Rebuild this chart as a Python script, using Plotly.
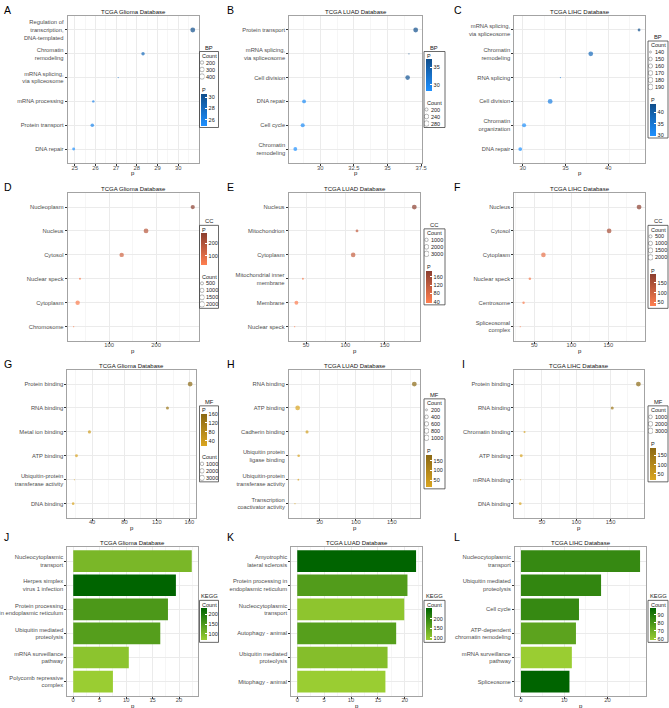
import plotly.graph_objects as go

W, H = 669, 708

# ---------------- GO BP ----------------
a_terms = ["Regulation of<br>transcription,<br>DNA-templated", "Chromatin<br>remodeling",
           "mRNA splicing,<br>via spliceosome", "mRNA processing", "Protein transport", "DNA repair"]
a_p = [30.7, 28.3, 27.1, 25.9, 25.85, 24.95]
a_count = [420, 260, 160, 190, 270, 220]
a_keys = [200, 300, 400]
a_pticks = [26, 28, 30]

b_terms = ["Protein transport", "mRNA splicing,<br>via spliceosome", "Cell division", "DNA repair",
           "Cell cycle", "Chromatin<br>remodeling"]
b_p = [37.1, 36.6, 36.5, 28.8, 28.7, 28.15]
b_count = [285, 190, 275, 240, 250, 240]
b_keys = [200, 240, 280]
b_pticks = [30, 35]

c_terms = ["mRNA splicing,<br>via spliceosome", "Chromatin<br>remodeling", "RNA splicing", "Cell division",
           "Chromatin<br>organization", "DNA repair"]
c_p = [43.6, 37.95, 34.4, 33.2, 30.15, 29.7]
c_count = [150, 188, 140, 190, 172, 165]
c_keys = [140, 150, 160, 170, 180, 190]
c_pticks = [30, 35, 40]

# ---------------- GO CC ----------------
d_terms = ["Nucleoplasm", "Nucleus", "Cytosol", "Nuclear speck", "Cytoplasm", "Chromosome"]
d_p = [277.7, 178.4, 126.6, 38, 33, 24.5]
d_count = [1500, 2000, 1700, 450, 1650, 350]
d_keys = [500, 1000, 1500, 2000]
d_pticks = [100, 200]

e_terms = ["Nucleus", "Mitochondrion", "Cytoplasm", "Mitochondrial inner<br>membrane", "Membrane", "Nuclear speck"]
e_p = [187.9, 114.9, 110, 46, 37.7, 35.5]
e_count = [3100, 1100, 2800, 700, 2000, 600]
e_keys = [1000, 2000, 3000]
e_pticks = [40, 80, 120, 160]

f_terms = ["Nucleus", "Cytosol", "Cytoplasm", "Nuclear speck", "Centrosome", "Spliceosomal<br>complex"]
f_p = [191.4, 151, 62.3, 44, 35.5, 31]
f_count = [2100, 2000, 1900, 550, 500, 300]
f_keys = [500, 1000, 1500, 2000]
f_pticks = [50, 100, 150]

# ---------------- GO MF ----------------
g_terms = ["Protein binding", "RNA binding", "Metal ion binding", "ATP binding",
           "Ubiquitin-protein<br>transferase activity", "DNA binding"]
g_p = [161, 133, 36.7, 20.7, 18.2, 16.6]
g_count = [3600, 1200, 1300, 1100, 400, 900]
g_keys = [1000, 2000, 3000]
g_pticks = [40, 80, 120, 160]

h_terms = ["RNA binding", "ATP binding", "Cadherin binding", "Ubiquitin protein<br>ligase binding",
           "Ubiquitin-protein<br>transferase activity", "Transcription<br>coactivator activity"]
h_p = [181, 19.4, 32.4, 20.8, 20.4, 15.7]
h_count = [1050, 1000, 420, 330, 220, 200]
h_keys = [200, 400, 600, 800, 1000]
h_pticks = [50, 100, 150]

i_terms = ["Protein binding", "RNA binding", "Chromatin binding", "ATP binding", "mRNA binding", "DNA binding"]
i_p = [190.5, 152.4, 24.6, 19.8, 18.8, 18.3]
i_count = [3200, 1100, 500, 1000, 350, 900]
i_keys = [1000, 2000, 3000]
i_pticks = [50, 100, 150]

# ---------------- KEGG ----------------
j_terms = ["Nucleocytoplasmic<br>transport", "Herpes simplex<br>virus 1 infection",
           "Protein processing<br>in endoplasmic reticulum", "Ubiquitin mediated<br>proteolysis",
           "mRNA surveillance<br>pathway", "Polycomb repressive<br>complex"]
j_p = [22.4, 19.4, 17.9, 16.45, 10.5, 7.5]
j_count = [100, 232, 150, 140, 80, 65]
j_ticks = [100, 150, 200]

k_terms = ["Amyotrophic<br>lateral sclerosis", "Protein processing in<br>endoplasmic reticulum",
           "Nucleocytoplasmic<br>transport", "Autophagy - animal", "Ubiquitin mediated<br>proteolysis",
           "Mitophagy - animal"]
k_p = [22.1, 20.5, 19.9, 18.4, 16.8, 16.4]
k_count = [253, 165, 100, 160, 110, 87]
k_ticks = [100, 150, 200]

l_terms = ["Nucleocytoplasmic<br>transport", "Ubiquitin mediated<br>proteolysis", "Cell cycle",
           "ATP-dependent<br>chromatin remodeling", "mRNA surveillance<br>pathway", "Spliceosome"]
l_p = [27.5, 18.5, 13.4, 12.7, 11.75, 11.2]
l_count = [84, 85, 84, 74, 58, 98]
l_ticks = [60, 70, 80, 90]

BLUE = ["#1E90FF", "#104E8B"]
ORANGE = ["#FF7F50", "#8B3E2F"]
GOLD = ["#DAA520", "#8B6914"]
GREEN = ["#9ACD32", "#006400"]

GRID = "#EBEBEB"
MINOR = "#F6F6F6"
BORDER = "#A3A3A3"
FONT = "Liberation Sans, Arial, sans-serif"

LEG_X = [199.5, 424, 648]
LEG_W = [19, 21, 20]

panels = [
    dict(kind="dot", tag="A", db="Glioma", grp="BP", terms=a_terms, p=a_p, count=a_count, keys=a_keys,
         ticks=a_pticks, pal=BLUE, order="count", box=(67.7, 198.7, 15.7, 163.3), dtick=1, col=0, lt=(2, 2)),
    dict(kind="dot", tag="B", db="LUAD", grp="BP", terms=b_terms, p=b_p, count=b_count, keys=b_keys,
         ticks=b_pticks, pal=BLUE, order="p", box=(289.3, 421.7, 15.7, 163.3), dtick=2.5, col=1, lt=(225, 2)),
    dict(kind="dot", tag="C", db="LIHC", grp="BP", terms=c_terms, p=c_p, count=c_count, keys=c_keys,
         ticks=c_pticks, pal=BLUE, order="count", box=(514.3, 645, 15.7, 163.3), dtick=5, col=2, lt=(452, 2)),
    dict(kind="dot", tag="D", db="Glioma", grp="CC", terms=d_terms, p=d_p, count=d_count, keys=d_keys,
         ticks=d_pticks, pal=ORANGE, order="p", box=(67.7, 198.7, 192.7, 341), dtick=100, col=0, lt=(2, 179)),
    dict(kind="dot", tag="E", db="LUAD", grp="CC", terms=e_terms, p=e_p, count=e_count, keys=e_keys,
         ticks=e_pticks, pal=ORANGE, order="count", box=(288.7, 420.3, 192.7, 341), dtick=50, col=1, lt=(225, 179)),
    dict(kind="dot", tag="F", db="LIHC", grp="CC", terms=f_terms, p=f_p, count=f_count, keys=f_keys,
         ticks=f_pticks, pal=ORANGE, order="count", box=(514.3, 645, 192.7, 341), dtick=50, col=2, lt=(452, 179)),
    dict(kind="dot", tag="G", db="Glioma", grp="MF", terms=g_terms, p=g_p, count=g_count, keys=g_keys,
         ticks=g_pticks, pal=GOLD, order="p", box=(67.3, 196, 369.7, 518), dtick=40, col=0, lt=(2, 356)),
    dict(kind="dot", tag="H", db="LUAD", grp="MF", terms=h_terms, p=h_p, count=h_count, keys=h_keys,
         ticks=h_pticks, pal=GOLD, order="count", box=(289, 420.3, 369.7, 518), dtick=50, col=1, lt=(225, 356)),
    dict(kind="dot", tag="I", db="LIHC", grp="MF", terms=i_terms, p=i_p, count=i_count, keys=i_keys,
         ticks=i_pticks, pal=GOLD, order="count", box=(514.3, 644.3, 369.7, 518), dtick=50, col=2, lt=(460, 356)),
    dict(kind="bar", tag="J", db="Glioma", grp="KEGG", terms=j_terms, p=j_p, count=j_count,
         ticks=j_ticks, pal=GREEN, box=(67.3, 197.7, 546.7, 696), dtick=5, col=0, lt=(2, 529)),
    dict(kind="bar", tag="K", db="LUAD", grp="KEGG", terms=k_terms, p=k_p, count=k_count,
         ticks=k_ticks, pal=GREEN, box=(291.3, 422, 546.7, 696), dtick=5, col=1, lt=(225, 529)),
    dict(kind="bar", tag="L", db="LIHC", grp="KEGG", terms=l_terms, p=l_p, count=l_count,
         ticks=l_ticks, pal=GREEN, box=(515, 646, 546.7, 696), dtick=10, col=2, lt=(452, 529)),
]


def nm(i):
    return "" if i == 1 else str(i)


def px(v):
    return v / W


def py(v):
    return 1 - v / H


def dot_size(c, lo, hi, dmin=1.2, dmax=4.8):
    t = (c - lo) / (hi - lo)
    t = min(max(t, 0.0), 1.0)
    return dmin + (dmax - dmin) * t ** 0.5


def note(x, y, text, size=5.5, xanchor="left", color="#222222", **kw):
    d = dict(x=x, y=y, xref="paper", yref="paper", text=text, showarrow=False,
             xanchor=xanchor, yanchor="middle", font=dict(size=size, color=color, family=FONT))
    d.update(kw)
    return d


fig = go.Figure()
layout = {}
annotations = []
shapes = []
mini = len(panels) + 1

for i, pn in enumerate(panels, start=1):
    x0, x1, y0, y1 = pn["box"]
    xa, ya, ca = "x" + nm(i), "y" + nm(i), "coloraxis" + nm(i)
    terms, vals, count = pn["terms"], pn["p"], pn["count"]
    n = len(terms)

    if pn["kind"] == "dot":
        lo, hi = min(vals), max(vals)
        pad = 0.05 * (hi - lo)
        xr = [lo - pad, hi + pad]
        clo, chi = min(count), max(count)
        sizes = [dot_size(c, clo, chi) for c in count]
        fig.add_trace(go.Scatter(
            x=vals, y=terms, mode="markers", xaxis=xa, yaxis=ya, showlegend=False, hoverinfo="skip",
            marker=dict(size=sizes, color=vals, coloraxis=ca, line=dict(width=0))))
        cmin, cmax = lo, hi
    else:
        hi = max(vals)
        xr = [-0.05 * hi, 1.05 * hi]
        fig.add_trace(go.Bar(
            x=vals, y=terms, orientation="h", width=0.9, xaxis=xa, yaxis=ya, showlegend=False,
            hoverinfo="skip", marker=dict(color=count, coloraxis=ca, line=dict(width=0))))
        cmin, cmax = min(count), max(count)

    tickfont = dict(size=5.8, color="#4D4D4D", family=FONT)
    layout["xaxis" + nm(i)] = dict(
        domain=[px(x0), px(x1)], anchor=ya, range=xr, tick0=0, dtick=pn["dtick"],
        showgrid=True, gridcolor=GRID, gridwidth=0.6,
        minor=dict(showgrid=True, gridcolor=MINOR, gridwidth=0.5, tick0=0, dtick=pn["dtick"] / 2),
        ticks="outside", ticklen=1.5, tickwidth=0.6, tickcolor="#333333", tickfont=tickfont,
        ticklabelstandoff=-3,
        showline=True, mirror=True, linecolor=BORDER, linewidth=1, zeroline=False,
        automargin=False, fixedrange=True)
    layout["yaxis" + nm(i)] = dict(
        domain=[py(y1), py(y0)], anchor=xa, type="category", categoryorder="array",
        categoryarray=terms, range=[n - 0.4, -0.6],
        showgrid=True, gridcolor=GRID, gridwidth=0.6,
        ticks="outside", ticklen=2, tickwidth=0.6, tickcolor="#333333", tickfont=tickfont,
        showline=True, mirror=True, linecolor=BORDER, linewidth=1, zeroline=False,
        automargin=False, fixedrange=True)

    # axis title, panel title and letter
    annotations.append(note(px((x0 + x1) / 2), py(y1 + 9.5), "p", size=6, xanchor="center",
                            color="#111111"))
    annotations.append(note(px((x0 + x1) / 2), py(y0 - 4), "TCGA %s Database" % pn["db"],
                            size=6, xanchor="center", color="#111111"))
    annotations.append(note(px(pn["lt"][0]), py(pn["lt"][1]), pn["tag"], size=10.5,
                            color="#000000", yanchor="top"))

    # legend block
    lx, lw = LEG_X[pn["col"]], LEG_W[pn["col"]]
    if pn["kind"] == "dot":
        nk = len(pn["keys"])
        count_h = 11 + 7 * (nk - 1) + 4
        h = count_h + 5 + 42
        sections = ["count", "p"] if pn["order"] == "count" else ["p", "count"]
    else:
        h = 42
        sections = ["bar"]
    top = (y0 + y1) / 2 - h / 2

    cbar = None
    cur = top
    for s in sections:
        if s == "count":
            annotations.append(note(px(lx + 0.8), py(cur + 4.5), "Count"))
            first = cur + 11
            last = first + 7 * (nk - 1)
            mx, my = "x" + str(mini), "y" + str(mini)
            layout["xaxis" + str(mini)] = dict(domain=[px(lx), px(lx + 5)], range=[0, 1], visible=False,
                                               anchor=my, fixedrange=True)
            layout["yaxis" + str(mini)] = dict(domain=[py(last + 3.5), py(first - 3.5)],
                                               range=[nk - 0.5, -0.5], visible=False, anchor=mx,
                                               fixedrange=True)
            ksz = [dot_size(k, clo, chi) + 0.8 for k in pn["keys"]]
            fig.add_trace(go.Scatter(
                x=[0.5] * nk, y=list(range(nk)), mode="markers", xaxis=mx, yaxis=my,
                showlegend=False, hoverinfo="skip",
                marker=dict(symbol="circle-open", size=ksz, color="#555555", line=dict(width=0.6))))
            for j, k in enumerate(pn["keys"]):
                annotations.append(dict(x=0.95, y=j, xref=mx, yref=my, text=str(k), showarrow=False,
                                        xanchor="left", yanchor="middle",
                                        font=dict(size=5.5, color="#222222", family=FONT)))
            mini += 1
            cur += count_h + 5
        else:
            annotations.append(note(px(lx + 0.8), py(cur + 4.5), "P" if s == "p" else "Count"))
            cbar = cur + 8
            cur += 42 + 5

    layout[ca] = dict(
        cmin=cmin, cmax=cmax, colorscale=[[0, pn["pal"][0]], [1, pn["pal"][1]]],
        colorbar=dict(x=px(lx + 1.5), xanchor="left", y=py(cbar), yanchor="top",
                      len=32, lenmode="pixels", thickness=5.5, thicknessmode="pixels",
                      tickmode="array", tickvals=pn["ticks"], ticks="inside", ticklen=1.5,
                      tickcolor="white", tickwidth=0.5, outlinewidth=0, xpad=0, ypad=0,
                      tickfont=dict(size=5.5, color="#222222", family=FONT)))

    annotations.append(note(px(lx + lw / 2), py(top - 4), pn["grp"], size=5.8, xanchor="center"))
    shapes.append(dict(type="rect", xref="paper", yref="paper", x0=px(lx), x1=px(lx + lw),
                       y0=py(top + h), y1=py(top), line=dict(color="#444444", width=0.8)))

fig.update_layout(
    width=W, height=H, template="none",
    margin=dict(l=0, r=0, t=0, b=0, pad=0, autoexpand=False),
    paper_bgcolor="white", plot_bgcolor="white",
    font=dict(family=FONT, size=6, color="#222222"),
    showlegend=False, annotations=annotations, shapes=shapes, bargap=0.1,
    **layout)

# the page's default body margin would push the figure out of the window
fig.write_html("out.html", config={"displayModeBar": False},
               post_script="document.body.style.margin='0';document.body.style.overflow='hidden';")
